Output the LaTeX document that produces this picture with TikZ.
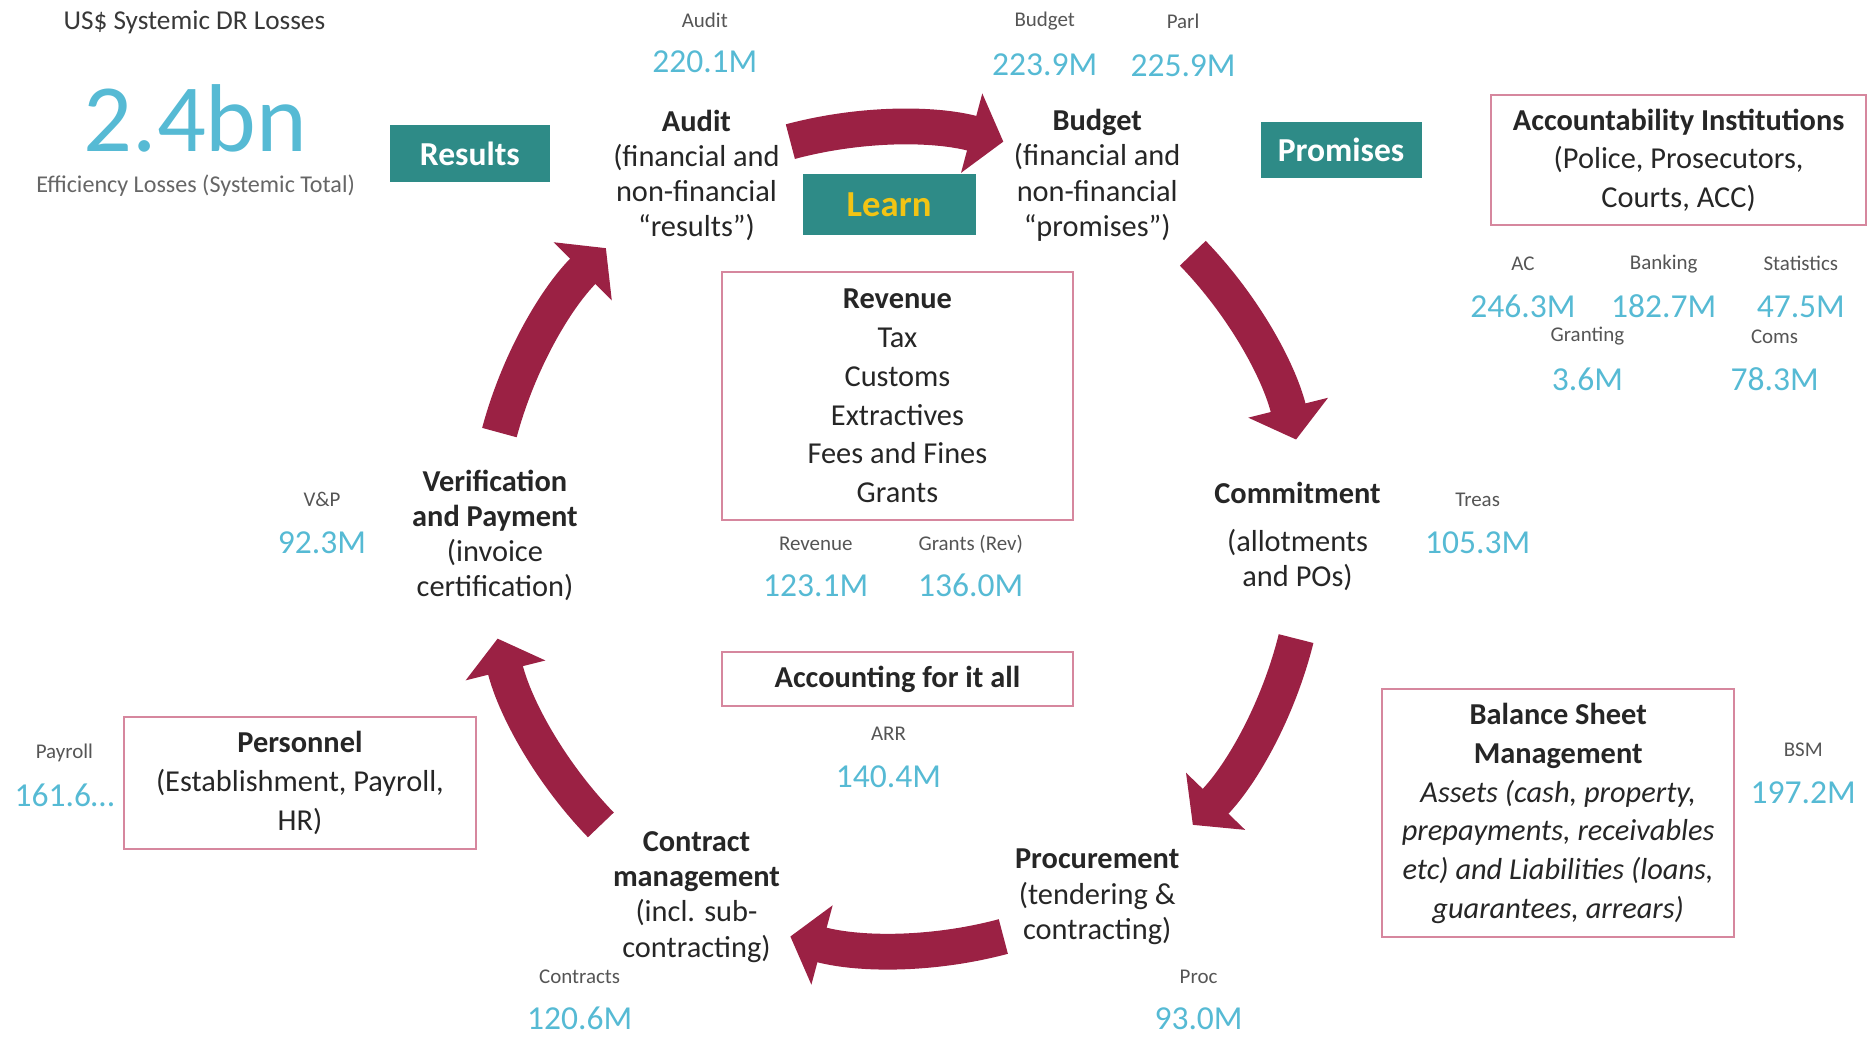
\documentclass[tikz,border=0pt]{standalone}
\usepackage{fontspec}
\setmainfont{Carlito}
\usetikzlibrary{arrows.meta}
\definecolor{claret}{RGB}{155,33,68}
\definecolor{tealtag}{RGB}{46,139,135}
\definecolor{learngold}{RGB}{242,196,20}
\definecolor{cardblue}{RGB}{86,186,212}
\definecolor{panelpink}{RGB}{214,135,158}
\definecolor{cardgrey}{RGB}{85,85,85}
\tikzset{
  stage/.style={
    align=center,
    text=black!85,
    inner sep=0pt,
    font=\fontsize{14.5}{16.8}\selectfont
  },
  panel/.style={
    draw=panelpink,
    line width=1pt,
    align=center,
    text=black!85,
    inner sep=0pt,
    minimum width=5.9cm,
    font=\fontsize{14.5}{18.5}\selectfont
  },
  tag/.style={
    fill=tealtag,
    text=white,
    inner sep=0pt,
    font=\fontsize{16}{18}\selectfont\bfseries
  },
  cardlabel/.style={
    text=cardgrey,
    font=\fontsize{10}{12}\selectfont
  },
  cardvalue/.style={
    text=cardblue,
    font=\fontsize{16}{18}\selectfont
  },
  flow/.style={
    draw=claret,
    line width=0.6cm,
    -{Triangle[length=0.55cm,width=1.35cm]}
  }
}
\begin{document}
\begin{tikzpicture}[x=0.02cm,y=-0.02cm]
\useasboundingbox (0,0) rectangle (1568,870);
% headline figure
\node[text=black!78,font=\fontsize{13}{15}\selectfont] (losstitle) at (163,19) {US\$ Systemic DR Losses};
\node[text=cardblue,font=\fontsize{46}{50}\selectfont,inner sep=0pt] (losstotal) at (164,99) {2.4bn};
\node[text=black!60,font=\fontsize{11.5}{13}\selectfont,inner sep=0pt] (losscap) at (164,156) {Efficiency Losses (Systemic Total)};
% tags
\node[tag,minimum width=2.68cm,minimum height=0.96cm] (results) at (394,129) {Results};
\node[tag,minimum width=2.7cm,minimum height=0.94cm] (promises) at (1124.5,125.5) {Promises};
\node[tag,text=learngold,font=\fontsize{17.5}{20}\selectfont\bfseries,minimum width=2.9cm,minimum height=1.02cm] (learn) at (745.5,171.5) {Learn};
% stages of the cycle
\node[stage] (audit) at (584,147) {\textbf{Audit}\\(financial and\\non-financial\\“results”)};
\node[stage] (budget) at (920,147) {\textbf{Budget}\\(financial and\\non-financial\\“promises”)};
\node[stage] (commit) at (1088,450) {\textbf{Commitment}\\[6pt](allotments\\and POs)};
\node[stage] (procure) at (920,752) {\textbf{Procurement}\\(tendering \&\\contracting)};
\node[stage] (contract) at (584,752) {\textbf{Contract}\\\textbf{management}\\(incl. sub-\\contracting)};
\node[stage] (verify) at (415,449) {\textbf{Verification}\\\textbf{and Payment}\\(invoice\\certification)};
% boxes
\node[panel,minimum width=6.3cm,minimum height=2.18cm] (accinst) at (1407.5,134.5) {\textbf{Accountability Institutions}\\(Police, Prosecutors,\\Courts, ACC)};
\node[panel,minimum height=4.16cm] (revenue) at (752.5,332) {\textbf{Revenue}\\Tax\\Customs\\Extractives\\Fees and Fines\\Grants};
\node[panel,minimum height=0.9cm] (accounting) at (752.5,569.5) {\textbf{Accounting for it all}};
\node[panel,minimum height=2.22cm] (personnel) at (251.5,656.5) {\textbf{Personnel}\\(Establishment, Payroll,\\HR)};
\node[panel,minimum height=4.16cm] (bsm) at (1306.5,682) {\textbf{Balance Sheet}\\\textbf{Management}\\\textit{Assets (cash, property,}\\\textit{prepayments, receivables}\\\textit{etc) and Liabilities (loans,}\\\textit{guarantees, arrears)}};
% cards
\node[cardlabel] (auditlbl) at (591,17) {Audit};
\node[cardvalue] (auditval) at (591,52) {220.1M};
\node[cardlabel] (budgetlbl) at (876,18) {Budget};
\node[cardvalue] (budgetval) at (876,54) {223.9M};
\node[cardlabel] (parllbl) at (992,18) {Parl};
\node[cardvalue] (parlval) at (992,55) {225.9M};
\node[cardlabel] (aclbl) at (1277,221) {AC};
\node[cardvalue] (acval) at (1277,257) {246.3M};
\node[cardlabel] (banklbl) at (1395,221) {Banking};
\node[cardvalue] (bankval) at (1395,257) {182.7M};
\node[cardlabel] (statlbl) at (1510,221) {Statistics};
\node[cardvalue] (statval) at (1510,257) {47.5M};
\node[cardlabel] (grantlbl) at (1331,282) {Granting};
\node[cardvalue] (grantval) at (1331,318) {3.6M};
\node[cardlabel] (comslbl) at (1488,282) {Coms};
\node[cardvalue] (comsval) at (1488,318) {78.3M};
\node[cardlabel] (vplbl) at (270,419) {V\&P};
\node[cardvalue] (vpval) at (270,455) {92.3M};
\node[cardlabel] (treaslbl) at (1239,419) {Treas};
\node[cardvalue] (treasval) at (1239,455) {105.3M};
\node[cardlabel] (revlbl) at (684,456) {Revenue};
\node[cardvalue] (revval) at (684,491) {123.1M};
\node[cardlabel] (grevlbl) at (814,456) {Grants (Rev)};
\node[cardvalue] (grevval) at (814,491) {136.0M};
\node[cardlabel] (arrlbl) at (745,615) {ARR};
\node[cardvalue] (arrval) at (745,651) {140.4M};
\node[cardlabel] (paylbl) at (54,631) {Payroll};
\node[cardvalue] (payval) at (54,667) {161.6…};
\node[cardlabel] (bsmlbl) at (1512,629) {BSM};
\node[cardvalue] (bsmval) at (1512,665) {197.2M};
\node[cardlabel] (contrlbl) at (486,819) {Contracts};
\node[cardvalue] (contrval) at (486,854) {120.6M};
\node[cardlabel] (proclbl) at (1005,819) {Proc};
\node[cardvalue] (procval) at (1005,854) {93.0M};
% cycle arrows
\coordinate (hub) at (752,452);
\coordinate (f1) at ([shift={(-105:345)}]hub);
\coordinate (f2) at ([shift={(-44:345)}]hub);
\coordinate (f3) at ([shift={(14:345)}]hub);
\coordinate (f4) at ([shift={(75:345)}]hub);
\coordinate (f5) at ([shift={(136:345)}]hub);
\coordinate (f6) at ([shift={(-165:345)}]hub);
\draw[flow] (f1) arc[start angle=-105,end angle=-75,radius=345];
\draw[flow] (f2) arc[start angle=-44,end angle=-14,radius=345];
\draw[flow] (f3) arc[start angle=14,end angle=44,radius=345];
\draw[flow] (f4) arc[start angle=75,end angle=105,radius=345];
\draw[flow] (f5) arc[start angle=136,end angle=166,radius=345];
\draw[flow] (f6) arc[start angle=-165,end angle=-135,radius=345];
\end{tikzpicture}
\end{document}
